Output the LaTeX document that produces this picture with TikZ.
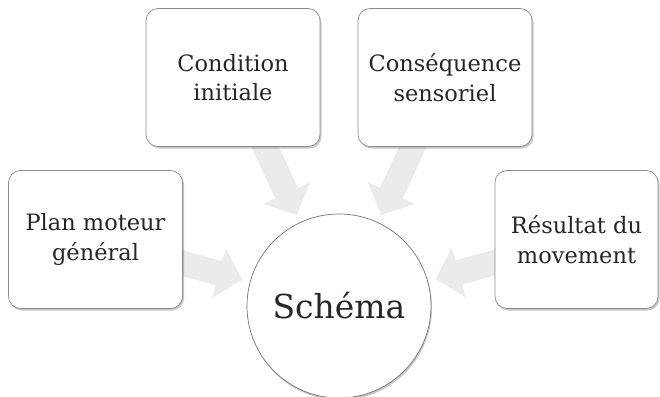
\documentclass[tikz,border=0pt]{standalone}
\usepackage{fontspec}
\setmainfont{DejaVu Serif}
\usetikzlibrary{arrows.meta,shadows,backgrounds}
\definecolor{txt}{HTML}{262626}
\definecolor{arrowgray}{HTML}{EBEBEB}
\tikzset{
  boxnode/.style={draw=black!45, line width=0.7pt, fill=white, rounded corners=12pt,
    minimum width=174pt, minimum height=138pt, align=center, inner sep=0pt,
    text=txt, font=\fontsize{22.5}{29.5}\selectfont,
    drop shadow={shadow xshift=1.5pt, shadow yshift=-2pt, opacity=0.22, fill=black}},
  hubnode/.style={circle, draw=black!55, line width=0.7pt, fill=white,
    minimum size=184pt, inner sep=0pt, text=txt, font=\fontsize{33}{40}\selectfont,
    drop shadow={shadow xshift=1pt, shadow yshift=-2pt, opacity=0.22, fill=black}},
  bigarrow/.style={draw=arrowgray, line width=25pt,
    -{Triangle[length=24pt, width=50pt]}, shorten >=8pt}
}
\begin{document}
\begin{tikzpicture}[x=1pt, y=-1pt]
\useasboundingbox (0,0) rectangle (660,396);
\node[boxnode] (plan) at (95.5,239.5) {Plan moteur\\général};
\node[boxnode] (cond) at (233,77.5) {Condition\\initiale};
\node[boxnode] (cons) at (445,77.5) {Conséquence\\sensoriel};
\node[boxnode, minimum width=163pt] (res) at (576.5,239.5) {Résultat du\\movement};
\node[hubnode] (schema) at (339,306) {Schéma};
\begin{scope}[on background layer]
\draw[bigarrow] (plan.center) -- (schema);
\draw[bigarrow] (cond.center) -- (schema);
\draw[bigarrow] (cons.center) -- (schema);
\draw[bigarrow] (res.center) -- (schema);
\end{scope}
\end{tikzpicture}
\end{document}
